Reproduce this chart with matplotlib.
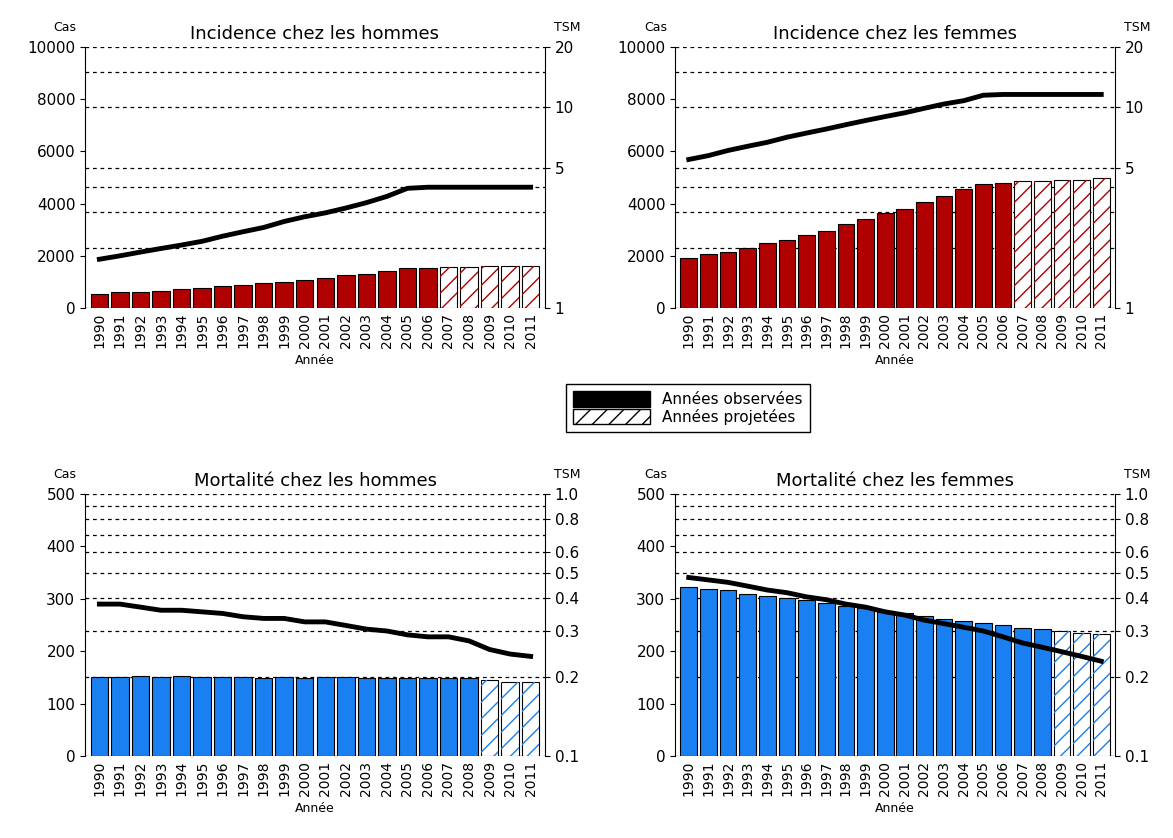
import numpy as np
import matplotlib.pyplot as plt
from matplotlib.patches import Patch

years = list(range(1990, 2012))

inc_h_cas = [550, 600, 620, 670, 720, 780, 830, 880, 950, 1000, 1080, 1150, 1250, 1320, 1430, 1550, 1550,
             1560, 1570, 1600, 1610, 1620]
inc_f_cas = [1900, 2050, 2150, 2300, 2500, 2620, 2780, 2950, 3200, 3400, 3650, 3800, 4050, 4300, 4550, 4750, 4800,
             4850, 4870, 4900, 4920, 4970]
mort_h_cas = [150, 150, 152, 150, 152, 150, 150, 150, 148, 150, 148, 150, 150, 148, 148, 148, 148, 148, 148,
              145, 142, 142]
mort_f_cas = [322, 318, 316, 310, 306, 302, 298, 292, 287, 282, 276, 272, 268, 262, 257, 254, 250, 245, 242,
              238, 235, 232]

inc_h_tsm = [1.75, 1.82, 1.9, 1.98, 2.06, 2.15, 2.28, 2.4, 2.52, 2.7, 2.85, 2.98, 3.15, 3.35, 3.6, 3.95, 4.0,
             4.0, 4.0, 4.0, 4.0, 4.0]
inc_f_tsm = [5.5, 5.75, 6.1, 6.4, 6.7, 7.1, 7.45, 7.8, 8.2, 8.6, 9.0, 9.4, 9.9, 10.4, 10.8, 11.5, 11.6,
             11.6, 11.6, 11.6, 11.6, 11.6]
mort_h_tsm = [.38, .38, .37, .36, .36, .355, .35, .34, .335, .335, .325, .325, .315, .305, .30, .29, .285,
              .285, .275, .255, .245, .24]
mort_f_tsm = [.48, .47, .46, .445, .43, .42, .405, .395, .38, .37, .355, .345, .33, .32, .31, .30, .285,
              .27, .26, .25, .24, .23]

RED = "#b00000"
BLUE = "#1a7ff0"

fig = plt.figure(figsize=(11.73, 8.38), dpi=100)
W, H = 1173, 838


def panel(x0, x1, y0, y1, cas, tsm, n_obs, color, title, ymax, rlim, rticks, rlabels, rgrid):
    ax = fig.add_axes([x0 / W, 1 - y1 / H, (x1 - x0) / W, (y1 - y0) / H])
    x = np.arange(len(years))
    # dashed grid of the log axis, drawn behind the bars
    for g in rgrid:
        yl = ymax * np.log(g / rlim[0]) / np.log(rlim[1] / rlim[0])
        ax.axhline(yl, color="black", linestyle=(0, (3, 3)), linewidth=0.9, zorder=0)
    for i, v in enumerate(cas):
        if i < n_obs:
            ax.bar(x[i], v, 0.85, color=color, edgecolor="black", linewidth=0.8, zorder=2)
        else:
            ax.bar(x[i], v, 0.85, color="white", edgecolor="black", linewidth=0.8, zorder=2)
            ax.bar(x[i], v, 0.85, color="none", edgecolor=color, hatch="//", linewidth=0, zorder=3)
    ax.set_ylim(0, ymax)
    ax.set_xlim(-0.7, len(years) - 0.3)
    ax.set_xticks(x)
    ax.set_xticklabels([str(y) for y in years], rotation=90, fontsize=10)
    ax.tick_params(axis="y", labelsize=11)
    ax.set_xlabel("Année", fontsize=9)
    for s in ["top", "right", "bottom"]:
        ax.spines[s].set_visible(False)
    ax.tick_params(axis="x", length=0)
    ax.text(-0.07, 1.06, "Cas", transform=ax.transAxes, fontsize=9)
    ax.set_title(title, fontsize=13, pad=6)

    ax2 = ax.twinx()
    ax2.set_yscale("log")
    ax2.set_ylim(*rlim)
    ax2.plot(x, tsm, color="black", linewidth=3.5)
    ax2.set_yticks(rticks)
    ax2.set_yticklabels(rlabels, fontsize=11)
    ax2.minorticks_off()
    for s in ["top", "left", "bottom"]:
        ax2.spines[s].set_visible(False)
    ax2.text(1.02, 1.06, "TSM", transform=ax2.transAxes, fontsize=9)
    ax2.set_zorder(ax.get_zorder() + 1)
    ax2.patch.set_visible(False)


inc_grid = [1, 2, 3, 4, 5, 10, 15, 20]
mort_grid = [0.1, 0.2, 0.3, 0.4, 0.5, 0.6, 0.7, 0.8, 0.9, 1.0]
inc_ticks = [1, 5, 10, 20]
inc_labels = ["1", "5", "10", "20"]
mort_ticks = [0.1, 0.2, 0.3, 0.4, 0.5, 0.6, 0.8, 1.0]
mort_labels = ["0.1", "0.2", "0.3", "0.4", "0.5", "0.6", "0.8", "1.0"]

panel(85, 545, 47, 308, inc_h_cas, inc_h_tsm, 17, RED, "Incidence chez les hommes", 10000,
      (1, 20), inc_ticks, inc_labels, inc_grid)
panel(675, 1115, 47, 308, inc_f_cas, inc_f_tsm, 17, RED, "Incidence chez les femmes", 10000,
      (1, 20), inc_ticks, inc_labels, inc_grid)
panel(85, 545, 494, 756, mort_h_cas, mort_h_tsm, 19, BLUE, "Mortalité chez les hommes", 500,
      (0.1, 1.0), mort_ticks, mort_labels, mort_grid)
panel(675, 1115, 494, 756, mort_f_cas, mort_f_tsm, 19, BLUE, "Mortalité chez les femmes", 500,
      (0.1, 1.0), mort_ticks, mort_labels, mort_grid)

handles = [Patch(facecolor="black", edgecolor="black", label="Années observées"),
           Patch(facecolor="white", edgecolor="black", hatch="//", label="Années projetées")]
fig.legend(handles=handles, loc="center", bbox_to_anchor=(688 / W, 1 - 408 / H), fontsize=11,
           fancybox=False, edgecolor="black", handlelength=5, handleheight=1.2, borderpad=0.5,
           labelspacing=0.1, framealpha=1)

fig.savefig("out.png", dpi=100)
